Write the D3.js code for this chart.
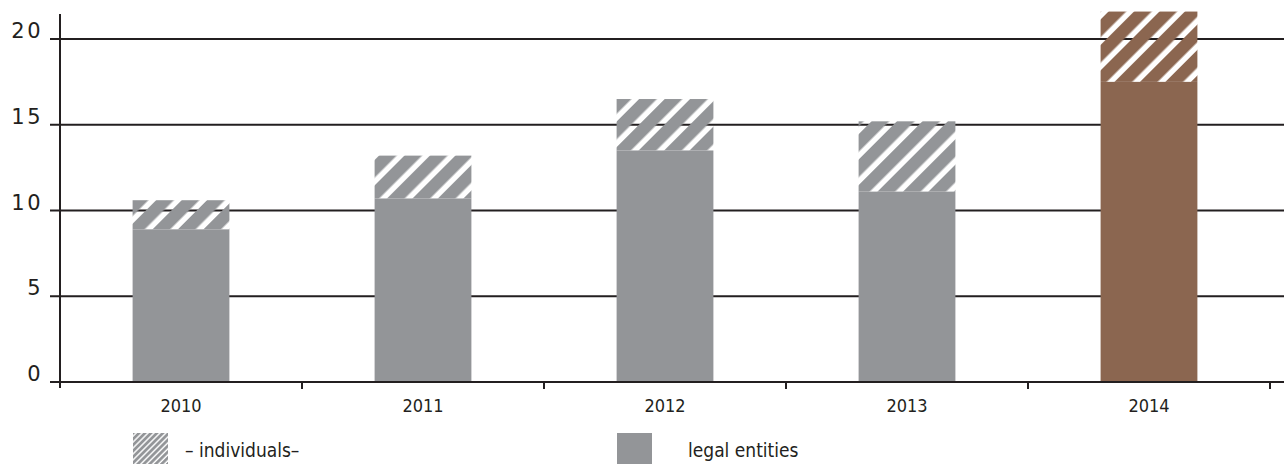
<!DOCTYPE html>
<html>
<head>
<meta charset="utf-8">
<script src="https://cdn.jsdelivr.net/npm/d3@7"></script>
<style>
  body { margin: 0; background: #fff; }
  .ylab { font-family: "DejaVu Sans", sans-serif; font-size: 21px; letter-spacing: 2.5px; fill: #231f20; }
  .xlab { font-family: "DejaVu Sans Condensed", "Liberation Sans Narrow", sans-serif; font-size: 18px; fill: #231f20; }
  .legend-text { font-family: "DejaVu Sans Condensed", "Liberation Sans Narrow", sans-serif; font-size: 19px; fill: #231f20; }
</style>
</head>
<body>
<svg id="chart"></svg>
<script>
// data
const years = ['2010', '2011', '2012', '2013', '2014'];
const legalEntities = [8.9, 10.7, 13.5, 11.1, 17.5];
const individuals = [1.7, 2.5, 3.0, 4.1, 4.1];
const yTicks = [0, 5, 10, 15, 20];
const legendLabels = ['– individuals–', 'legal entities'];

const width = 1284, height = 464;
const gray = '#939598', brown = '#8b6650', ink = '#231f20';

const svg = d3.select('#chart')
  .attr('width', width)
  .attr('height', height);

// x band scale over the plot width
const xScale = d3.scaleBand()
  .domain(years)
  .range([60, 1270])
  .paddingInner(0.6)
  .paddingOuter(0.3);

const yScale = d3.scaleLinear()
  .domain([0, 20])
  .range([382, 39]);

// hatch patterns: coloured stripes with transparent gaps
const defs = svg.append('defs');
function hatch(id, color, period, gap) {
  const p = defs.append('pattern')
    .attr('id', id)
    .attr('patternUnits', 'userSpaceOnUse')
    .attr('width', period)
    .attr('height', period)
    .attr('patternTransform', 'rotate(45)');
  p.append('rect')
    .attr('x', 0).attr('y', 0)
    .attr('width', period - gap)
    .attr('height', period)
    .attr('fill', color);
}
hatch('hatch-gray', gray, 18, 5.5);
hatch('hatch-brown', brown, 18, 5.5);
hatch('hatch-legend', gray, 4.2, 1.4);

// gridlines + y ticks
svg.append('g')
  .selectAll('line')
  .data(yTicks)
  .enter().append('line')
  .attr('x1', 50)
  .attr('x2', width)
  .attr('y1', d => yScale(d))
  .attr('y2', d => yScale(d))
  .attr('stroke', ink)
  .attr('stroke-width', 2);

svg.append('g')
  .selectAll('text')
  .data(yTicks)
  .enter().append('text')
  .attr('class', 'ylab')
  .attr('x', 43)
  .attr('y', d => yScale(d) - 1)
  .attr('text-anchor', 'end')
  .text(d => d);

// bars
const colorFor = (d, i) => years[i] === '2014' ? brown : gray;

svg.append('g')
  .selectAll('rect')
  .data(years)
  .enter().append('rect')
  .attr('x', d => xScale(d))
  .attr('width', xScale.bandwidth())
  .attr('y', (d, i) => yScale(legalEntities[i]))
  .attr('height', (d, i) => yScale(0) - yScale(legalEntities[i]))
  .attr('fill', colorFor);

svg.append('g')
  .selectAll('rect')
  .data(years)
  .enter().append('rect')
  .attr('x', d => xScale(d))
  .attr('width', xScale.bandwidth())
  .attr('y', (d, i) => yScale(legalEntities[i] + individuals[i]))
  .attr('height', (d, i) => yScale(legalEntities[i]) - yScale(legalEntities[i] + individuals[i]))
  .attr('fill', d => d === '2014' ? 'url(#hatch-brown)' : 'url(#hatch-gray)');

// axes
svg.append('line')
  .attr('x1', 60).attr('x2', 60)
  .attr('y1', 14).attr('y2', 388)
  .attr('stroke', ink)
  .attr('stroke-width', 2);

svg.append('line')
  .attr('x1', 50).attr('x2', width)
  .attr('y1', yScale(0)).attr('y2', yScale(0))
  .attr('stroke', ink)
  .attr('stroke-width', 2);

const step = xScale.step();
svg.append('g')
  .selectAll('line')
  .data(years)
  .enter().append('line')
  .attr('x1', d => xScale(d) + xScale.bandwidth() / 2 + step / 2)
  .attr('x2', d => xScale(d) + xScale.bandwidth() / 2 + step / 2)
  .attr('y1', yScale(0))
  .attr('y2', yScale(0) + 7)
  .attr('stroke', ink)
  .attr('stroke-width', 2);

svg.append('g')
  .selectAll('text')
  .data(years)
  .enter().append('text')
  .attr('class', 'xlab')
  .attr('x', d => xScale(d) + xScale.bandwidth() / 2)
  .attr('y', 412)
  .attr('text-anchor', 'middle')
  .text(d => d);

// legend
const legend = svg.append('g');
legend.append('rect')
  .attr('x', 133).attr('y', 433)
  .attr('width', 35).attr('height', 31)
  .attr('fill', 'url(#hatch-legend)');
legend.append('text')
  .attr('class', 'legend-text')
  .attr('x', 185).attr('y', 457)
  .text(legendLabels[0]);
legend.append('rect')
  .attr('x', 617).attr('y', 433)
  .attr('width', 35).attr('height', 31)
  .attr('fill', gray);
legend.append('text')
  .attr('class', 'legend-text')
  .attr('x', 688).attr('y', 457)
  .text(legendLabels[1]);
</script>
</body>
</html>
